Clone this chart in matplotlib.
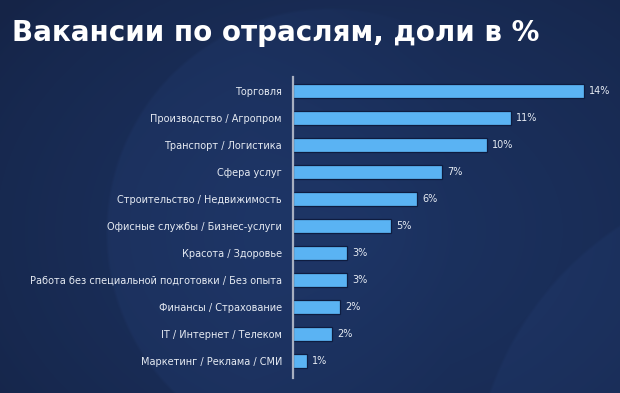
import numpy as np
import matplotlib
matplotlib.use("Agg")
import matplotlib.pyplot as plt

categories = [
    "Торговля",
    "Производство / Агропром",
    "Транспорт / Логистика",
    "Сфера услуг",
    "Строительство / Недвижимость",
    "Офисные службы / Бизнес-услуги",
    "Красота / Здоровье",
    "Работа без специальной подготовки / Без опыта",
    "Финансы / Страхование",
    "IT / Интернет / Телеком",
    "Маркетинг / Реклама / СМИ",
]
values = [14.33, 10.74, 9.56, 7.34, 6.11, 4.83, 2.66, 2.66, 2.32, 1.92, 0.69]
labels = ["14%", "11%", "10%", "7%", "6%", "5%", "3%", "3%", "2%", "2%", "1%"]

W, H = 620, 393
fig = plt.figure(figsize=(W / 100, H / 100), dpi=100)

# background
bg = fig.add_axes([0, 0, 1, 1], zorder=0)
bg.axis("off")
yy, xx = np.mgrid[0:H, 0:W].astype(float)
c_edge = np.array([0x15, 0x24, 0x47]) / 255
c_mid = np.array([0x1c, 0x33, 0x62]) / 255
d = np.hypot((xx - 360) / 460, (yy - 230) / 340)
t = np.clip(1 - d, 0, 1)[..., None] ** 0.7
img = c_edge * (1 - t) + c_mid * t
d1 = np.hypot(xx - 330, yy - 232)
m1 = np.clip((225 - d1) / 3, 0, 1) * np.clip(1 - (xx - 250) / 200, 0, 1)
d2 = np.hypot(xx - 800, yy - 500)
m2 = np.clip((330 - d2) / 3, 0, 1)
lift = np.array([0x05, 0x08, 0x0e]) / 255
img = img + lift * m1[..., None] * 0.6 + lift * m2[..., None] * 0.55
img = np.clip(img, 0, 1)
bg.imshow(img, extent=[0, W, H, 0], aspect="auto", interpolation="bilinear")
bg.set_xlim(0, W)
bg.set_ylim(H, 0)

fig.text(12 / W, 1 - 33 / H, "Вакансии по отраслям, доли в %", color="white",
         fontsize=20, fontweight="bold", family="DejaVu Sans", va="center", ha="left")

left = 293 / W
s = 20.3
xmax = 15.5
ax = fig.add_axes([left, 1 - 378 / H, xmax * s / W, (378 - 77) / H], zorder=2)
ax.patch.set_alpha(0)
y = np.arange(len(categories))
ax.barh(y, values, height=0.55, color="#5ab3f3", edgecolor="#0e1c40", linewidth=0.9)
ax.set_xlim(0, xmax)
ax.set_ylim(10.63, -0.52)
for sp in ["top", "right", "bottom"]:
    ax.spines[sp].set_visible(False)
ax.spines["left"].set_color("#a7afc0")
ax.spines["left"].set_linewidth(1.6)
ax.set_xticks([])
ax.set_yticks(y)
ax.set_yticklabels(categories, color="#e6ebf3", fontsize=7.0, family="DejaVu Sans")
ax.tick_params(axis="y", length=0, pad=8)
for yi, v, lab in zip(y, values, labels):
    ax.text(v + 0.25, yi, lab, color="#e6ebf3", fontsize=7.0, va="center", ha="left")

fig.savefig("out.png", dpi=100)
